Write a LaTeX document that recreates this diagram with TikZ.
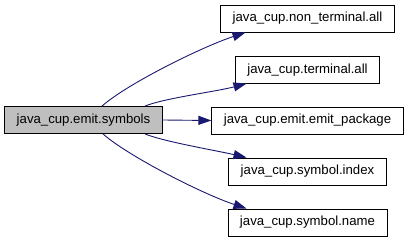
\documentclass[tikz,border=0pt]{standalone}
\usepackage{fontspec}
\setmainfont{Liberation Sans}
\usetikzlibrary{arrows.meta}
\definecolor{edgeblue}{HTML}{191970}
\definecolor{srcgray}{HTML}{BFBFBF}
\begin{document}
\begin{tikzpicture}[x=1pt,y=-1pt,
  cls/.style={draw=black, line width=0.9pt, rectangle, minimum height=27pt,
    inner xsep=12pt, inner ysep=0pt, font=\fontsize{13.2}{15}\selectfont},
  srcbox/.style={cls, fill=srcgray},
  dep/.style={draw=edgeblue, line width=0.9pt,
    -{Triangle[length=13pt,width=9pt]}, fill=none},
]
\useasboundingbox (0,0) rectangle (408,240);

\node[srcbox] (src) at (83.5,120) {java\_cup.emit.symbols};

\node[cls] (nt)   at (307.5,18.5)  {java\_cup.non\_terminal.all};
\node[cls] (term) at (307.5,69.6)  {java\_cup.terminal.all};
\node[cls] (pkg)  at (307.5,120.5) {java\_cup.emit.emit\_package};
\node[cls] (idx)  at (307.5,171.5) {java\_cup.symbol.index};
\node[cls] (name) at (307.5,222.5) {java\_cup.symbol.name};

\draw[dep] ([xshift=18.5pt]src.north) .. controls +(25,-22) and +(-45,15) .. ([xshift=-62pt]nt.south);
\draw[dep] ([xshift=61.5pt]src.north) .. controls +(20,-8) and +(-30,8) .. ([xshift=-61pt]term.south);
\draw[dep] (src.east) -- (pkg.west);
\draw[dep] ([xshift=61.5pt]src.south) .. controls +(20,8) and +(-30,-7) .. ([xshift=-61pt]idx.north);
\draw[dep] ([xshift=19.5pt]src.south) .. controls +(25,22) and +(-45,-15) .. ([xshift=-61pt]name.north);
\end{tikzpicture}
\end{document}
